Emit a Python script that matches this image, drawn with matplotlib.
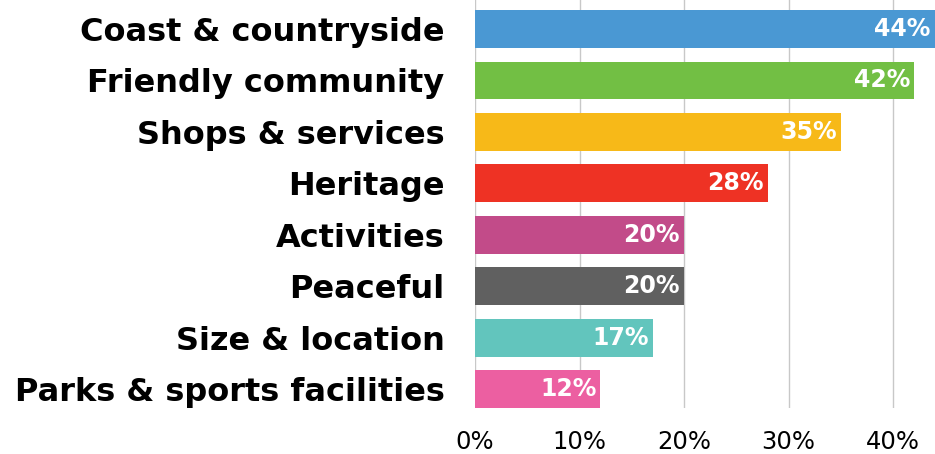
import matplotlib.pyplot as plt

plt.rcParams['font.family'] = ['DejaVu Sans']

categories = ['Coast & countryside', 'Friendly community', 'Shops & services',
              'Heritage', 'Activities', 'Peaceful', 'Size & location',
              'Parks & sports facilities']
values = [44, 42, 35, 28, 20, 20, 17, 12]
colors = ['#4A98D3', '#72BF44', '#F7B918', '#EE3224',
          '#C24B89', '#606060', '#62C5BD', '#EC5FA1']
ticks = [0, 10, 20, 30, 40]

fig = plt.figure(figsize=(9.35, 4.54), dpi=100)
ax = fig.add_axes([0.508, 0.1013, 0.492, 0.8987])

ypos = list(range(len(categories)))
ax.barh(ypos, values, height=0.735, color=colors, zorder=2)

# value labels sit inside the end of each bar
for y, v in zip(ypos, values):
    ax.annotate('{}%'.format(v), xy=(v, y), xytext=(-3, 0),
                textcoords='offset points', ha='right', va='center',
                color='white', fontsize=17, fontweight='bold', zorder=3)

ax.set_xlim(0, 44)
ax.set_ylim(7.3675, -0.565)
ax.set_yticks(ypos)
ax.set_yticklabels(categories, fontsize=23, fontweight='bold')
ax.set_xticks(ticks)
ax.set_xticklabels(['{}%'.format(t) for t in ticks], fontsize=17.5)
ax.tick_params(axis='both', length=0)
ax.tick_params(axis='y', pad=22)
ax.tick_params(axis='x', pad=16)

ax.grid(axis='x', color='#c8c8c8', linewidth=1, zorder=0)
for s in ax.spines.values():
    s.set_visible(False)

fig.savefig('out.png', dpi=100)
